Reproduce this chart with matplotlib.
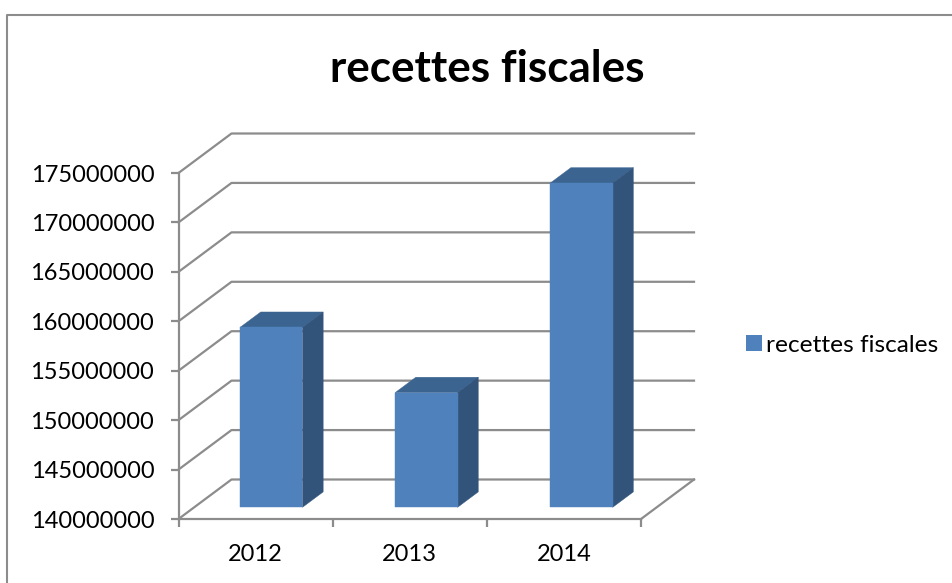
"""Pseudo-3D column chart of recettes fiscales, drawn on a flat axes."""

import matplotlib

matplotlib.use("Agg")
import matplotlib.pyplot as plt
from matplotlib.lines import Line2D
from matplotlib.patches import Polygon, Rectangle

years = ["2012", "2013", "2014"]
recettes = [158200000, 151600000, 172800000]
series_name = "recettes fiscales"
y_ticks = [140000000, 145000000, 150000000, 155000000, 160000000, 165000000, 170000000, 175000000]

WIDTH, HEIGHT = 953, 583
GRID = "#8c8c8c"
FRONT = "#4f81bd"
TOP = "#3c6491"
SIDE = "#32547b"

plt.rcParams["font.family"] = ["Lato", "DejaVu Sans"]

figure = plt.figure(figsize=(WIDTH / 100, HEIGHT / 100), dpi=100)

# front plane of the plot box, in pixels
left, right, top, bottom = 178.5, 641, 173, 519
axes = figure.add_axes(
    [left / WIDTH, 1 - bottom / HEIGHT, (right - left) / WIDTH, (bottom - top) / HEIGHT]
)
axes.set_xlim(0, len(years))
axes.set_ylim(y_ticks[0], y_ticks[-1])
axes.patch.set_visible(False)

# shift from the front plane to the back wall, in data units
depth_x = 53 / ((right - left) / len(years))
depth_y = 39.5 / ((bottom - top) / (y_ticks[-1] - y_ticks[0]))

for tick in y_ticks:
    axes.plot(
        [0, depth_x, len(years) + depth_x],
        [tick, tick + depth_y, tick + depth_y],
        color=GRID,
        linewidth=1.6,
        clip_on=False,
        zorder=1,
    )
axes.plot(
    [len(years), len(years) + depth_x],
    [y_ticks[0], y_ticks[0] + depth_y],
    color=GRID,
    linewidth=1.6,
    clip_on=False,
    zorder=1,
)

# each column sits part way into the floor and has its own depth
bar_width = 0.405
gap = 0.296
bar_depth = 0.39
bar_step = 1.006
for index, value in enumerate(recettes):
    x0 = index * bar_step + 0.5 - bar_width / 2 + gap * depth_x
    x1 = x0 + bar_width
    y0 = y_ticks[0] + gap * depth_y
    y1 = value + gap * depth_y
    step_x = bar_depth * depth_x
    step_y = bar_depth * depth_y
    axes.add_patch(
        Polygon(
            [(x0, y1), (x1, y1), (x1 + step_x, y1 + step_y), (x0 + step_x, y1 + step_y)],
            facecolor=TOP,
            edgecolor=TOP,
            linewidth=0.3,
            clip_on=False,
            zorder=3,
        )
    )
    axes.add_patch(
        Polygon(
            [(x1, y0), (x1 + step_x, y0 + step_y), (x1 + step_x, y1 + step_y), (x1, y1)],
            facecolor=SIDE,
            edgecolor=SIDE,
            linewidth=0.3,
            clip_on=False,
            zorder=3,
        )
    )
    axes.add_patch(
        Rectangle(
            (x0, y0),
            bar_width,
            value - y_ticks[0],
            facecolor=FRONT,
            edgecolor=FRONT,
            linewidth=0.3,
            clip_on=False,
            zorder=4,
        )
    )

for side in ("top", "right"):
    axes.spines[side].set_visible(False)
for side in ("left", "bottom"):
    axes.spines[side].set_color(GRID)
    axes.spines[side].set_linewidth(1.6)

axes.set_yticks(y_ticks, [str(tick) for tick in y_ticks])
axes.set_xticks(range(len(years) + 1), [""] * (len(years) + 1))
axes.set_xticks([i + 0.5 for i in range(len(years))], years, minor=True)
axes.tick_params(axis="both", which="major", color=GRID, width=1.6, length=6)
axes.tick_params(axis="y", labelsize=17, pad=11.5, labelcolor="black")
axes.tick_params(axis="x", which="minor", length=0, labelsize=17, pad=18, labelcolor="black")

figure.text(487 / WIDTH, 1 - 82 / HEIGHT, series_name, ha="center", va="baseline",
            fontsize=31.7, fontweight="bold", color="black")

legend_handle = Rectangle((0, 0), 1, 1, facecolor=FRONT, edgecolor="none")
figure.legend(
    [legend_handle],
    [series_name],
    loc="center left",
    bbox_to_anchor=(741 / WIDTH, 1 - 345 / HEIGHT),
    frameon=False,
    fontsize=17.6,
    handlelength=0.64,
    handleheight=0.64,
    handletextpad=0.2,
    borderpad=0.2,
    borderaxespad=0,
)

# chart area border, only the top and left edges are in the picture
figure.add_artist(
    Line2D(
        [7.5 / WIDTH, 7.5 / WIDTH, 1],
        [0, 1 - 14.5 / HEIGHT, 1 - 14.5 / HEIGHT],
        color=GRID,
        linewidth=1.5,
    )
)

figure.savefig("out.png", dpi=100)
